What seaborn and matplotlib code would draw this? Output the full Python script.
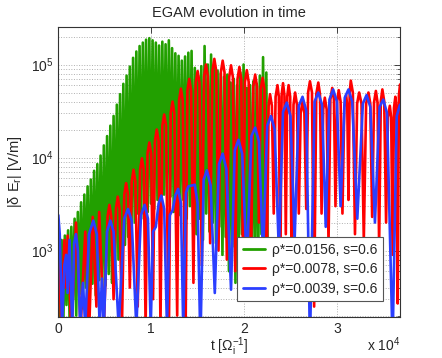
import numpy as np
import pandas as pd
import matplotlib
matplotlib.use('Agg')
import matplotlib.pyplot as plt
import seaborn as sns
from matplotlib.ticker import LogLocator, FixedLocator, NullFormatter

# --- data (t in units of 1e4 / Omega_i, |dE_r| in V/m) ---
labels = ['ρ*=0.0156, s=0.6', 'ρ*=0.0078, s=0.6', 'ρ*=0.0039, s=0.6']
colors = ['#22a000', '#ff0000', '#2b3fff']

# green: fast oscillation, sampled peak / trough every half period
green_step = 0.0175
green_peaks = [1500, 1300, 1450, 1650, 1800, 2200, 2600, 3300, 4000, 4900,
               5800, 7200, 8500, 10500, 13500, 17000, 22000, 28000, 37000, 48000,
               62000, 76000, 95000, 118000, 138000, 158000, 172000, 185000, 192000, 182000,
               172000, 160000, 176000, 165000, 182000, 150000, 132000, 124000, 110000, 122000,
               134000, 140000, 92000, 76000, 96000, 158000, 100000, 128000, 94000, 86000,
               80000, 74000, 78000, 64000, 70000, 60000, 82000, 100000, 56000, 60000,
               66000, 62000, 76000, 120000, 82000]
green_troughs = [180, 140, 260, 150, 300, 200, 340, 240, 400, 300,
                 440, 330, 480, 380, 420, 560, 450, 650, 800, 900,
                 1150, 1400, 1700, 2000, 2500, 2200, 3000, 2600, 3200, 2800,
                 3500, 2500, 4000, 3000, 3800, 2600, 3200, 2400, 3500, 2200,
                 3000, 1800, 1500, 2200, 1300, 2500, 1600, 2000, 1200, 1800,
                 900, 1400, 600, 1100, 450, 900, 1500, 700, 1200, 800,
                 1000, 700, 1500, 900, 350]

red_t = [0.000, 0.030, 0.065, 0.080, 0.100, 0.140, 0.190, 0.240, 0.290, 0.330,
         0.370, 0.410, 0.440, 0.490,
         0.530, 0.550, 0.570, 0.595, 0.620, 0.640, 0.660, 0.685,
         0.710, 0.730, 0.750, 0.770, 0.790, 0.810, 0.830, 0.855,
         0.880, 0.900, 0.920, 0.940, 0.960, 0.980, 1.000, 1.020,
         1.040, 1.060, 1.080, 1.100, 1.120, 1.140, 1.160, 1.190,
         1.210, 1.230, 1.250, 1.280, 1.300, 1.320, 1.340, 1.370,
         1.390, 1.410, 1.430, 1.455, 1.480, 1.500, 1.520, 1.545,
         1.570, 1.590, 1.610, 1.635, 1.660, 1.680, 1.700, 1.725,
         1.750, 1.770, 1.790, 1.815, 1.840, 1.860, 1.880, 1.905,
         1.930, 1.950, 1.970, 1.990, 2.010, 2.030, 2.050, 2.075,
         2.100, 2.120, 2.140, 2.160, 2.180, 2.200, 2.220, 2.245,
         2.265, 2.280, 2.300, 2.320, 2.340, 2.360, 2.375, 2.390,
         2.405, 2.420, 2.435, 2.450, 2.465, 2.480, 2.497, 2.515,
         2.533, 2.550, 2.570, 2.590, 2.610, 2.630, 2.650, 2.670,
         2.690, 2.710, 2.732, 2.755, 2.778, 2.800, 2.818, 2.835,
         2.853, 2.870, 2.890, 2.910, 2.930, 2.950, 2.968, 2.985,
         3.003, 3.020, 3.040, 3.060, 3.080, 3.100, 3.112, 3.125,
         3.138, 3.150, 3.172, 3.195, 3.218, 3.240, 3.265, 3.290,
         3.315, 3.340, 3.360, 3.380, 3.400, 3.420, 3.438, 3.455,
         3.473, 3.490, 3.510, 3.530, 3.550, 3.570, 3.585, 3.600,
         3.615, 3.630, 3.642, 3.655, 3.668, 3.680]
red_v = [1800, 150, 1300, 400, 1450, 120, 2000, 150, 1600, 120,
         2300, 250, 2600, 150,
         2300, 3100, 2300, 300, 2800, 3800, 2800, 150,
         4000, 5300, 4000, 400, 5500, 7400, 5500, 250,
         7300, 9800, 7300, 150, 11000, 14500, 11000, 300,
         15000, 20000, 15000, 150, 22000, 29000, 22000, 100,
         30000, 40000, 30000, 200, 41000, 55000, 41000, 100,
         52000, 70000, 52000, 450, 64000, 85000, 64000, 700,
         75000, 100000, 75000, 1200, 86000, 115000, 86000, 1000,
         82000, 110000, 82000, 800, 73000, 98000, 73000, 600,
         70000, 94000, 70000, 500, 65000, 87000, 65000, 700,
         58000, 78000, 58000, 2000, 54000, 72000, 54000, 600,
         36000, 48000, 36000, 2500, 45000, 60000, 45000, 400,
         47000, 63000, 47000, 1500, 45000, 60000, 45000, 300,
         37000, 50000, 37000, 2500, 30000, 40000, 30000, 2800,
         50000, 66000, 50000, 250, 48000, 64000, 48000, 2500,
         33000, 44000, 33000, 1200, 42000, 56000, 42000, 3000,
         40000, 53000, 40000, 2500, 35000, 47000, 35000, 3500,
         50000, 67000, 50000, 1500, 38000, 50000, 38000, 1300,
         38000, 50000, 38000, 2300, 39000, 52000, 39000, 1100,
         40000, 54000, 40000, 2000, 27000, 36000, 27000, 900,
         34000, 45000, 34000, 270, 46000, 61000]

blue_t = [0.000, 0.015, 0.040, 0.065, 0.085, 0.100, 0.120, 0.150, 0.170, 0.190,
          0.210, 0.235, 0.265, 0.290, 0.330, 0.377, 0.415, 0.445, 0.470, 0.490,
          0.525, 0.560, 0.595, 0.650, 0.710, 0.750, 0.790, 0.840, 0.890, 0.930,
          0.965, 0.995, 1.020, 1.050, 1.080, 1.110, 1.140, 1.170, 1.200, 1.230,
          1.260, 1.290, 1.320, 1.345, 1.375, 1.400, 1.470, 1.500, 1.530, 1.565,
          1.600, 1.640, 1.685, 1.730, 1.770, 1.810, 1.860, 1.900, 1.940, 1.980,
          2.030, 2.080, 2.120, 2.160, 2.205, 2.250, 2.290, 2.330, 2.375, 2.420,
          2.460, 2.500, 2.545, 2.590, 2.630, 2.670, 2.710, 2.760, 2.800, 2.840,
          2.880, 2.920, 2.960, 3.000, 3.040, 3.085, 3.125, 3.165, 3.220, 3.280,
          3.320, 3.360, 3.410, 3.460, 3.500, 3.540, 3.600, 3.645, 3.680]
blue_v = [2400, 1500, 150, 700, 900, 350, 1300, 150, 1200, 1500,
          1000, 150, 450, 150, 1500, 2100, 1500, 150, 500, 150,
          1600, 2100, 1600, 150, 2200, 2800, 2100, 150, 2400, 3100,
          2200, 150, 1600, 1800, 3200, 3900, 2800, 150, 2400, 2700,
          3900, 4600, 3200, 150, 4200, 4900, 5100, 3200, 100, 5800,
          7300, 5000, 350, 8500, 11000, 7500, 380, 12000, 15500, 11000,
          700, 17000, 21000, 15000, 900, 22000, 28000, 20000, 1000, 31000,
          39000, 28000, 1300, 36000, 45000, 32000, 100, 40000, 50000, 37000,
          1800, 42000, 54000, 40000, 3000, 44000, 54000, 40000, 2200, 38000,
          47000, 35000, 2000, 35000, 42000, 30000, 100, 28000, 37000]

green_v = np.column_stack([green_peaks, green_troughs]).ravel()
green_t = np.arange(len(green_v)) * green_step

df = pd.concat([
    pd.DataFrame({'t': green_t, 'E': green_v, 'run': labels[0]}),
    pd.DataFrame({'t': red_t, 'E': red_v, 'run': labels[1]}),
    pd.DataFrame({'t': blue_t, 'E': blue_v, 'run': labels[2]}),
], ignore_index=True)

sns.set_style('white')
plt.rcParams['font.family'] = ['Liberation Sans', 'DejaVu Sans']
plt.rcParams['mathtext.default'] = 'regular'
plt.rcParams['font.size'] = 10

fig, ax = plt.subplots(figsize=(4.42, 3.58), dpi=100)
fig.subplots_adjust(left=0.132, right=0.905, bottom=0.115, top=0.925)

sns.lineplot(data=df, x='t', y='E', hue='run', hue_order=labels, palette=colors,
             estimator=None, sort=False, linewidth=1.9, ax=ax)

ax.set_yscale('log')
ax.set_xlim(0, 3.68)
ax.set_ylim(194, 2.54e5)

ax.xaxis.set_major_locator(FixedLocator([0, 1, 2, 3]))
ax.set_xticklabels(['0', '1', '2', '3'])
ax.yaxis.set_major_locator(LogLocator(base=10))
ax.yaxis.set_minor_locator(LogLocator(base=10, subs=np.arange(2, 10)))
ax.yaxis.set_minor_formatter(NullFormatter())

ax.grid(True, which='major', ls=':', color='#b0b0b0', lw=0.7)
ax.grid(True, which='minor', axis='y', ls=':', color='#b0b0b0', lw=0.7)
ax.tick_params(direction='in', which='both', top=True, right=True, labelsize=10)
ax.tick_params(which='major', length=4, width=0.6)
ax.tick_params(which='minor', length=2, width=0.5)
for sp in ax.spines.values():
    sp.set_color('#333333')
    sp.set_linewidth(0.8)

ax.set_title('EGAM evolution in time', fontsize=10.5, pad=7)
ax.set_xlabel('t [Ω$_i^{-1}$]', fontsize=10, labelpad=0)
ax.set_ylabel('|δ E$_r$| [V/m]', fontsize=10.5, labelpad=5)
fig.text(0.905, 0.02, 'x 10$^{4}$', ha='right', va='baseline', fontsize=10)

handles, labs = ax.get_legend_handles_labels()
leg = ax.legend(handles, labs, loc='lower right', bbox_to_anchor=(0.950, 0.054),
                borderaxespad=0, frameon=True, fancybox=False, framealpha=1,
                edgecolor='#555555', fontsize=10, handlelength=1.6,
                labelspacing=0.4, borderpad=0.4, handletextpad=0.5)
leg.get_frame().set_linewidth(0.8)
for line in leg.get_lines():
    line.set_linewidth(2)

fig.savefig('out.png', dpi=100)
